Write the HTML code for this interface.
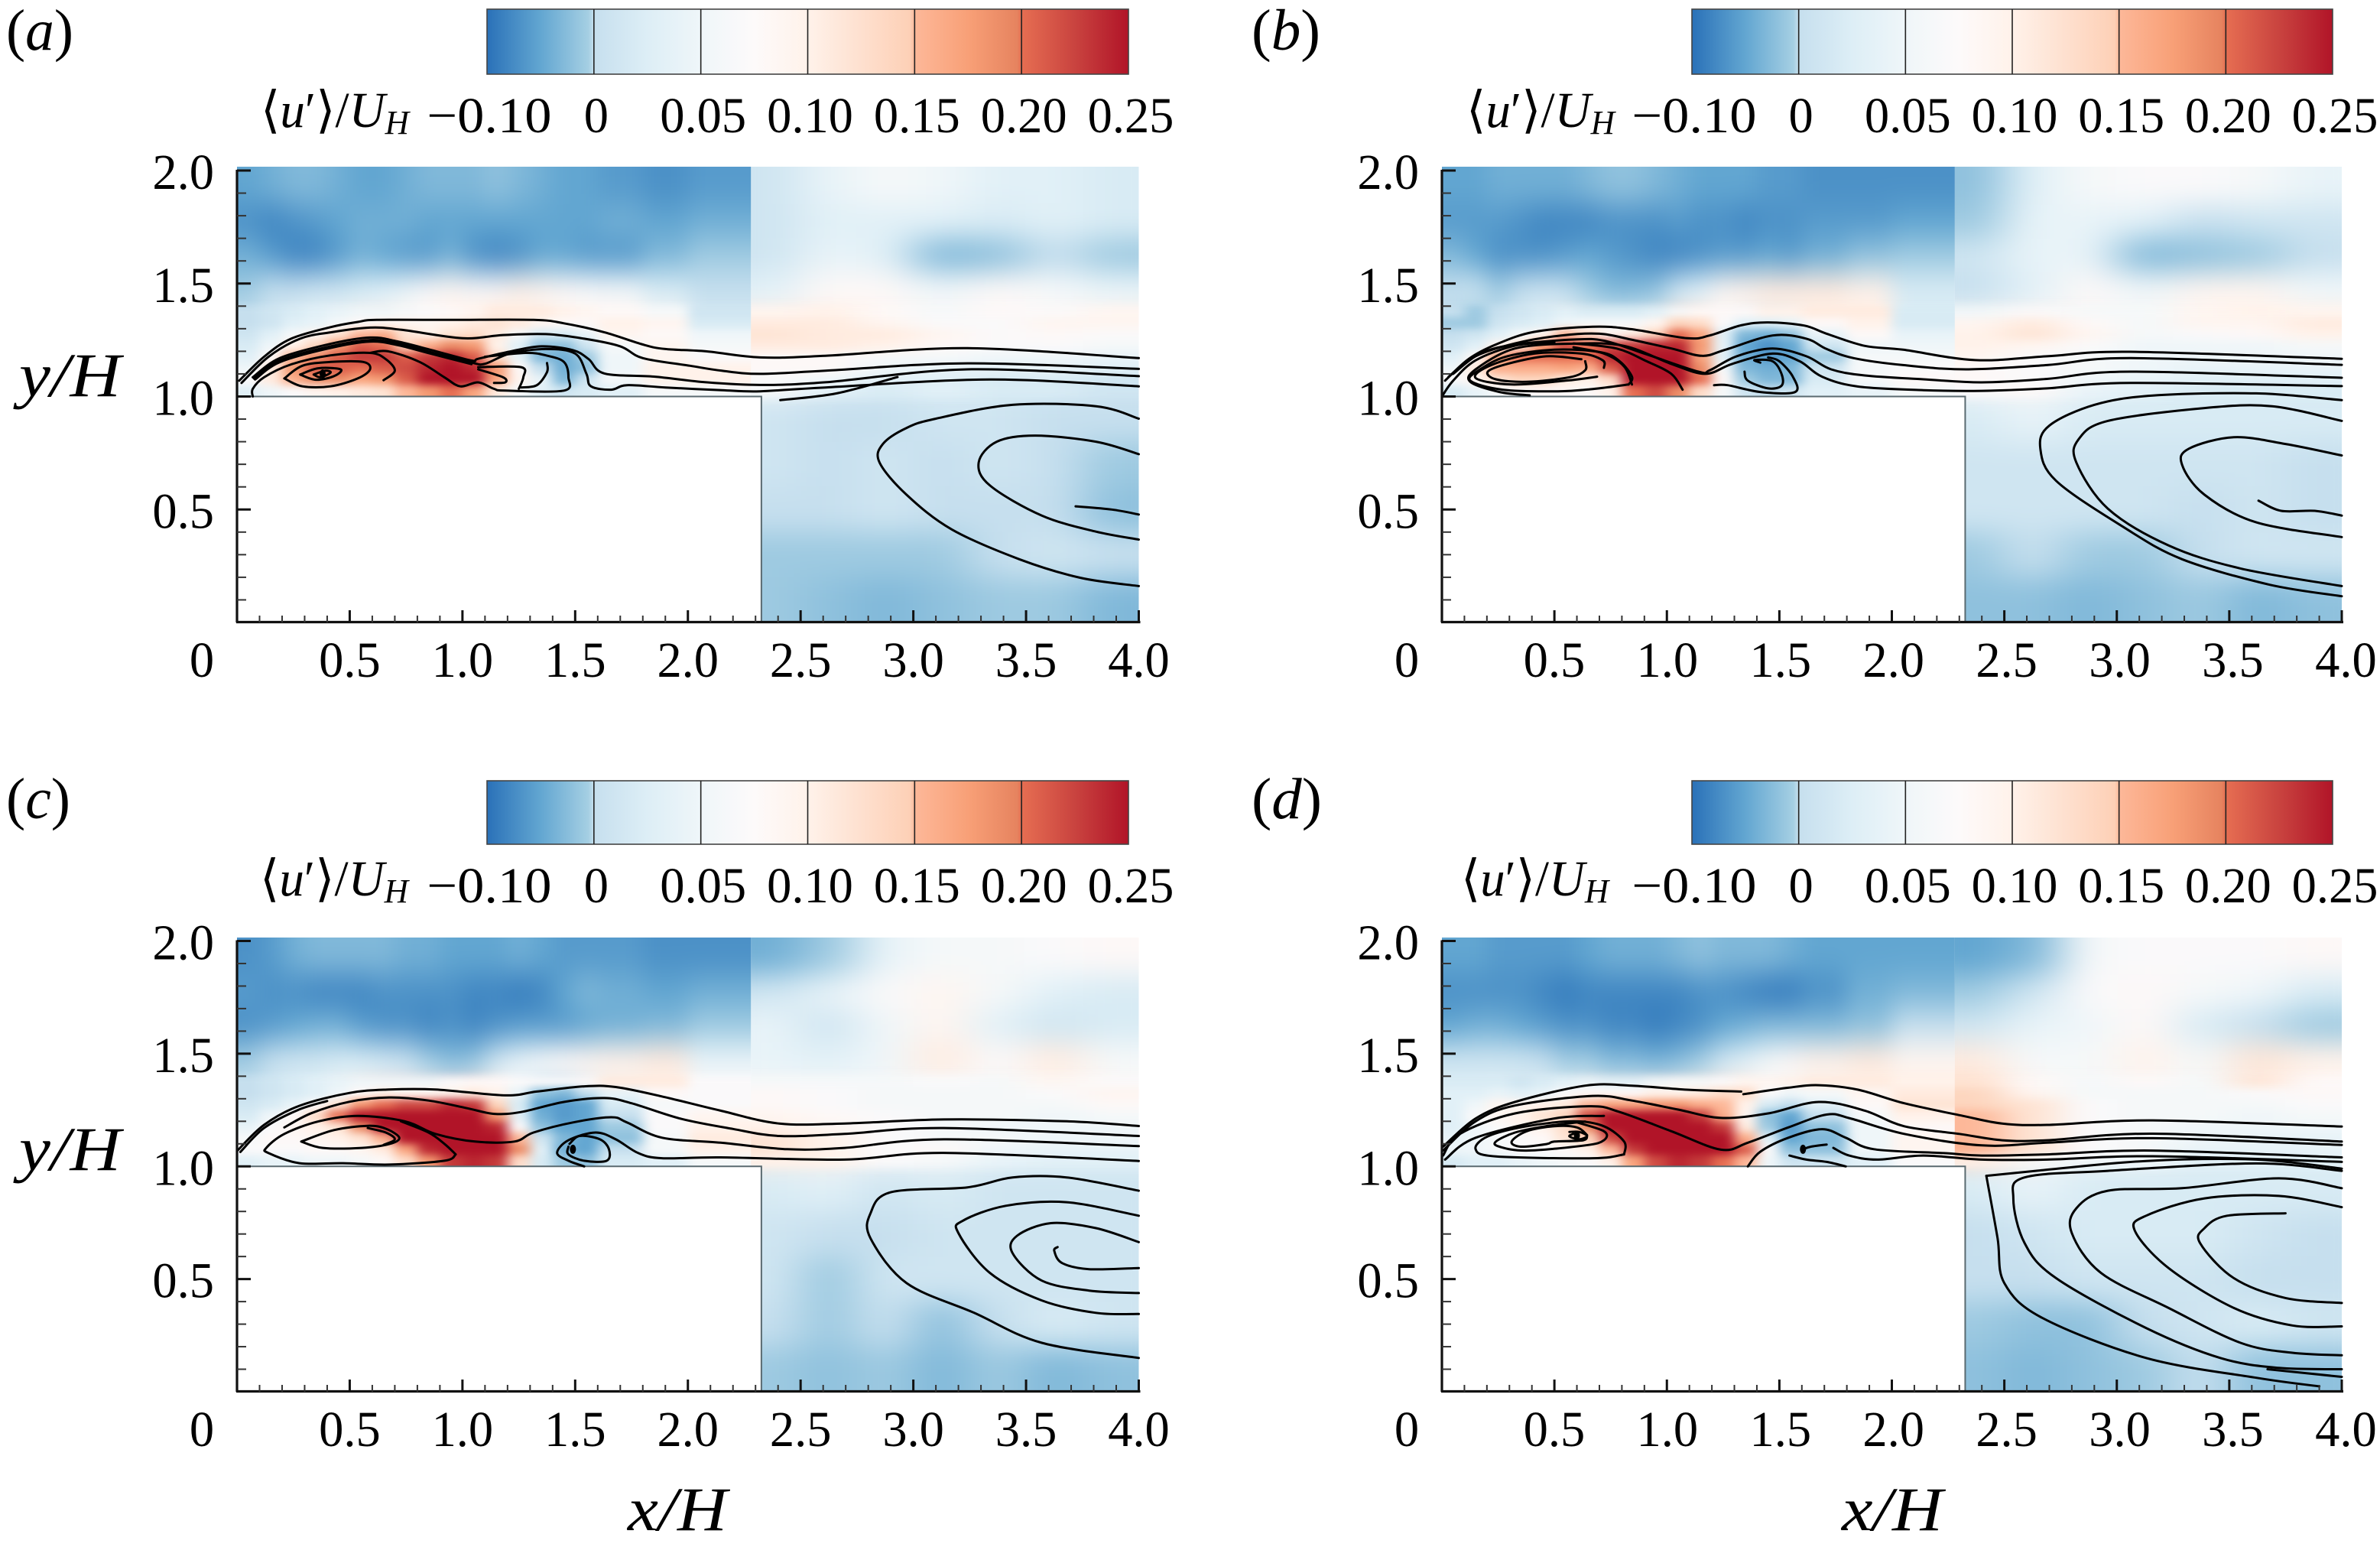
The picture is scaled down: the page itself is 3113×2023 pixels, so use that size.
<!DOCTYPE html>
<html lang="en">
<head>
<meta charset="utf-8">
<title>Mean streamwise velocity fluctuation over a block, panels a to d</title>
<style>
html,body{margin:0;padding:0;background:#fff}
svg{display:block}
text{font-family:"Liberation Serif","DejaVu Serif",serif;fill:#000}
.i{font-style:italic}
</style>
</head>
<body>
<svg id="figure" xmlns="http://www.w3.org/2000/svg" width="3113" height="2023" viewBox="0 0 3113 2023">
<defs>
<filter id="blurBaseL" filterUnits="userSpaceOnUse" x="0" y="0" width="3113" height="2023" color-interpolation-filters="sRGB"><feGaussianBlur stdDeviation="14 20"/></filter>
<filter id="blurFineL" filterUnits="userSpaceOnUse" x="0" y="0" width="3113" height="2023" color-interpolation-filters="sRGB"><feGaussianBlur stdDeviation="8 5"/></filter>
<filter id="blurBaseR" filterUnits="userSpaceOnUse" x="0" y="0" width="3113" height="2023" color-interpolation-filters="sRGB"><feGaussianBlur stdDeviation="30 18"/></filter>
<filter id="blurFineR" filterUnits="userSpaceOnUse" x="0" y="0" width="3113" height="2023" color-interpolation-filters="sRGB"><feGaussianBlur stdDeviation="24 6"/></filter>
</defs>
<rect width="3113" height="2023" fill="#fff"/>
<g id="panel-a"></g>
<g id="panel-b"></g>
<g id="panel-c"></g>
<g id="panel-d"></g>

<text x="8" y="65" font-size="76" textLength="88" lengthAdjust="spacingAndGlyphs">(<tspan class="i">a</tspan>)</text>
<text x="1637" y="65" font-size="76" textLength="90" lengthAdjust="spacingAndGlyphs">(<tspan class="i">b</tspan>)</text>
<text x="8" y="1070" font-size="76" textLength="84" lengthAdjust="spacingAndGlyphs">(<tspan class="i">c</tspan>)</text>
<text x="1637" y="1070" font-size="76" textLength="92" lengthAdjust="spacingAndGlyphs">(<tspan class="i">d</tspan>)</text>

<text x="341" y="166" font-size="66" textLength="194" lengthAdjust="spacingAndGlyphs">⟨<tspan class="i">u</tspan>′⟩/<tspan class="i">U</tspan><tspan class="i" font-size="44" dy="9">H</tspan></text>
<text x="1918" y="166" font-size="66" textLength="194" lengthAdjust="spacingAndGlyphs">⟨<tspan class="i">u</tspan>′⟩/<tspan class="i">U</tspan><tspan class="i" font-size="44" dy="9">H</tspan></text>
<text x="340" y="1171" font-size="66" textLength="194" lengthAdjust="spacingAndGlyphs">⟨<tspan class="i">u</tspan>′⟩/<tspan class="i">U</tspan><tspan class="i" font-size="44" dy="9">H</tspan></text>
<text x="1911" y="1171" font-size="66" textLength="193" lengthAdjust="spacingAndGlyphs">⟨<tspan class="i">u</tspan>′⟩/<tspan class="i">U</tspan><tspan class="i" font-size="44" dy="9">H</tspan></text>

<text x="25" y="518" font-size="82" class="i" textLength="133" lengthAdjust="spacingAndGlyphs">y/H</text>
<text x="25" y="1530" font-size="82" class="i" textLength="133" lengthAdjust="spacingAndGlyphs">y/H</text>
<text x="821" y="2001" font-size="82" class="i" textLength="130" lengthAdjust="spacingAndGlyphs">x/H</text>
<text x="2409" y="2001" font-size="82" class="i" textLength="132" lengthAdjust="spacingAndGlyphs">x/H</text>

<script>
// ----- axis and colour-bar labels -----
const xTickValues = [0, 0.5, 1, 1.5, 2, 2.5, 3, 3.5, 4];
const xTickLabels = ['0', '0.5', '1.0', '1.5', '2.0', '2.5', '3.0', '3.5', '4.0'];
const yTickValues = [0.5, 1, 1.5, 2];
const yTickLabels = ['0.5', '1.0', '1.5', '2.0'];
const cbarTickLabels = ['\u22120.10', '0', '0.05', '0.10', '0.15', '0.20', '0.25'];
const cbarTickValues = [-10, 0, 5, 10, 15, 20, 25];

// ----- colour map: value (hundredths of U_H) -> colour -----
const cmapValues = [-10, -5, -0.5, 0, 2.5, 5, 7.5, 10, 12.5, 14.8, 15, 17.5, 19.8, 20, 22.5, 25];
const cmapColours = ['#2a71b8', '#62a6d1', '#a5cfe3', '#c6dfee', '#ddeef6', '#eff6f9', '#fdfafa', '#fff2ea', '#fee0cf', '#fdd0b6', '#fdb899', '#f8a077', '#e6835f', '#e66e52', '#c9433f', '#b11428'];

// ----- heat-map grid edges, data units -----
const xEdgesLeft = [0, 0.1, 0.2, 0.3, 0.4, 0.5, 0.6, 0.7, 0.8, 0.9, 1.0, 1.1, 1.2, 1.3, 1.4, 1.5, 1.6, 1.8, 2.0, 2.28];
const xEdgesRight = [2.28, 2.5, 2.75, 3.0, 3.25, 3.5, 3.75, 4.0];
const yEdgesUpper = [2.02, 1.85, 1.7, 1.55, 1.4, 1.35, 1.3, 1.25, 1.2, 1.15, 1.1, 1.05, 1.0];
const yEdgesFull = [2.02, 1.85, 1.7, 1.55, 1.4, 1.35, 1.3, 1.25, 1.2, 1.15, 1.1, 1.05, 1.0, 0.8, 0.6, 0.4, 0.2, 0];

// ----- panel (a) field values, hundredths -----
const heatALeft = [
[-5,-4,-3,-3,-4,-5,-5,-4,-3,-3,-3,-2,-3,-4,-5,-5,-6,-7,-6],
[-7,-8,-7,-6,-5,-4,-4,-4,-5,-5,-5,-5,-5,-5,-5,-5,-4,-5,-4],
[-4,-6,-8,-8,-6,-4,-5,-6,-6,-4,-7,-8,-7,-5,-5,-6,-6,-3,-1],
[-1,0,0,1,1,2,3,5,8,9,8,8,10,9,8,7,6,2,0],
[0,1,2,3,4,5,5,6,7,8,9,11,11,11,10,9,8,6,1],
[0,1,3,4,6,8,9,9,9,10,11,12,11,9,8,8,10,9,2],
[1,3,6,9,12,15,16,12,10,12,13,11,6,2,2,4,9,8,5],
[2,5,10,14,18,21,20,14,16,19,18,10,3,-2,-2,1,6,9,6],
[3,8,15,19,21,23,23,21,23,24,21,13,4,-3,-4,-1,5,9,7],
[5,11,18,21,21,20,21,22,24,25,24,18,8,0,-4,-2,5,10,10],
[7,11,16,19,19,17,18,21,25,25,25,17,9,4,-3,1,6,10,10],
[3,5,7,9,10,11,12,15,18,20,17,11,6,3,1,2,3,6,6]];
const heatARight = [
[1,4,6,5,3,3,2],[1,3,3,3,2,3,2],[1,4,3,-3,-2,0,-1],[3,8,8,5,8,6,4],[9,10,8,6,8,7,9],[11,11,9,7,7,9,9],
[12,11,11,9,7,8,7],[11,11,10,8,7,7,6],[8,8,6,6,5,5,4],[8,8,5,4,4,4,3],[7,5,3,3,2,2,1],[6,3,2,3,2,2,1],
[1,0,0,1,1,0,0],[1,0,1,0,1,0,-1],[0,0,1,0,0,0,-2],[-1,-1,-1,-1,0,1,0],[-1,-2,-3,-2,-1,-1,-3]];

// ----- panel (b) -----
const heatBLeft = [
[-5,-5,-4,-4,-4,-4,-3,-2,-2,-3,-4,-5,-5,-5,-6,-6,-7,-7,-7],
[-6,-6,-6,-7,-8,-8,-8,-7,-7,-7,-6,-7,-7,-8,-7,-7,-6,-6,-5],
[-3,-5,-7,-7,-7,-6,-5,-6,-7,-8,-8,-7,-6,-6,-5,-6,-4,-2,-1],
[0,1,-1,0,1,0,-1,-3,-3,-2,1,3,9,10,11,11,11,10,2],
[0,-1,0,1,2,3,2,2,2,3,6,8,8,8,10,10,11,11,2],
[-1,-1,1,2,3,5,6,6,6,9,14,13,7,3,3,4,8,10,2],
[0,1,3,6,9,15,13,9,11,14,20,17,3,-3,-4,-2,4,8,4],
[1,3,9,12,18,22,20,22,23,24,24,18,4,-5,-7,-5,1,5,5],
[3,8,17,20,20,20,20,24,25,25,25,17,3,-4,-6,-5,-1,6,6],
[5,11,16,16,16,17,16,21,25,25,25,19,6,-3,-4,-3,1,6,7],
[7,9,12,14,14,11,10,13,25,25,25,20,8,-1,-3,-3,2,6,8],
[2,4,6,7,8,8,8,10,20,22,19,13,6,1,0,1,3,4,6]];
const heatBRight = [
[-2,3,6,7,7,6,4],[-1,4,4,3,0,1,1],[1,4,4,-3,-2,-1,0],[0,3,8,5,9,9,5],[5,7,6,6,9,10,9],[9,11,8,6,9,9,11],
[10,12,9,6,7,8,10],[10,9,7,5,5,5,6],[9,7,6,5,5,5,5],[8,7,6,5,4,4,4],[8,7,5,4,3,3,3],[7,8,4,3,2,2,2],
[2,4,2,2,2,2,2],[1,1,1,1,1,1,0],[1,1,1,1,0,1,0],[-1,0,-1,-1,0,1,1],[-2,-2,-3,-2,-1,-3,-2]];

// ----- panel (c) -----
const heatCLeft = [
[-7,-6,-4,-3,-3,-3,-3,-4,-4,-5,-5,-5,-4,-5,-6,-6,-6,-7,-7],
[-6,-7,-7,-8,-8,-8,-7,-7,-7,-7,-8,-8,-9,-8,-5,-3,-4,-5,-4],
[-7,-6,-5,-4,-4,-6,-7,-7,-8,-7,-8,-7,-6,-6,-6,-5,-4,-3,-1],
[-1,0,1,1,2,2,1,0,-1,-3,-2,1,4,6,8,9,10,11,4],
[0,1,2,3,4,5,5,5,5,7,8,8,7,7,7,8,11,11,7],
[0,1,2,3,5,8,10,9,9,10,11,10,4,-2,-3,0,4,8,7],
[1,2,4,7,12,18,20,22,22,24,23,14,2,-5,-6,-5,2,6,7],
[2,5,8,13,20,25,25,25,25,25,25,18,3,-4,-6,-5,0,7,9],
[4,7,9,10,12,19,25,25,25,25,25,24,7,-2,-5,-5,-1,7,10],
[6,8,8,9,10,12,16,25,25,25,25,25,15,1,-3,-5,-2,6,11],
[7,7,7,8,8,9,11,17,24,25,25,25,19,3,-4,-5,0,6,10],
[3,4,4,5,5,6,8,13,18,23,24,23,13,2,-1,-2,2,3,6]];
const heatCRight = [
[-4,-1,4,6,6,7,8],[1,4,7,9,6,3,2],[4,1,5,9,3,1,2],[4,3,5,11,7,11,6],[6,6,6,7,6,9,7],[8,7,6,6,6,7,9],
[8,7,6,6,6,6,8],[9,8,7,6,6,5,6],[10,9,7,6,5,5,5],[12,10,7,6,6,5,5],[12,10,7,8,5,4,4],[10,10,7,6,4,3,3],
[2,3,1,2,1,1,1],[1,0,0,1,1,1,1],[1,-1,1,1,1,1,1],[0,-1,0,-2,0,2,1],[-1,-2,-1,-3,-1,-3,-2]];

// ----- panel (d) -----
const heatDLeft = [
[-5,-5,-6,-6,-6,-6,-5,-4,-4,-4,-3,-2,-3,-3,-3,-4,-5,-5,-5],
[-7,-7,-7,-7,-8,-9,-8,-8,-8,-8,-8,-7,-7,-8,-9,-9,-7,-4,-3],
[-5,-4,-4,-5,-6,-7,-7,-8,-8,-9,-8,-7,-5,-4,-3,-3,-3,-2,0],
[1,1,1,1,0,-1,-1,-3,-3,-4,-3,-1,1,3,6,8,10,11,9],
[2,2,2,1,2,3,4,3,3,5,6,6,7,9,9,10,11,11,10],
[3,3,4,3,4,7,8,8,8,10,10,11,13,13,7,5,6,9,11],
[3,5,9,9,10,11,15,17,17,18,18,16,15,10,2,0,3,8,12],
[3,7,9,10,12,14,22,25,25,25,25,23,16,9,-2,-5,0,6,10],
[3,5,7,9,10,13,19,25,25,25,25,25,23,11,-1,-6,-2,5,8],
[4,5,6,7,8,12,14,22,25,25,25,25,25,16,3,-5,-3,5,9],
[5,5,6,7,7,8,10,15,23,25,25,25,25,21,7,-2,-2,5,9],
[2,3,3,4,5,6,7,10,17,22,24,23,20,15,5,1,1,3,7]];
const heatDRight = [
[-5,-3,6,7,7,7,8],[-1,1,7,8,6,5,2],[1,4,5,8,2,0,-1],[11,6,6,10,6,12,10],[12,8,6,8,6,12,8],[14,9,6,6,6,7,8],
[14,12,7,6,6,6,7],[15,12,7,6,6,5,6],[15,12,7,6,5,5,5],[15,12,7,6,5,4,4],[16,12,7,6,4,4,4],[10,6,5,5,3,3,3],
[2,4,2,2,2,2,2],[0,1,2,2,2,1,0],[0,0,1,1,1,0,0],[-1,-2,-2,0,1,2,1],[-2,-3,-2,-1,0,-2,-2]];

// ----- streamlines, [x/H, y/H] -----
const streamsA = [
[[0.01,1.07],[0.12,1.176],[0.24,1.256],[0.415,1.307],[0.536,1.33],[0.62,1.339],[0.95,1.339],[1.315,1.339],[1.45,1.324],[1.63,1.284],[1.8,1.23],[1.9,1.21],[2.08,1.2],[2.32,1.173],[2.61,1.18],[3.24,1.214],[4,1.17]],
[[0.02,1.06],[0.14,1.176],[0.28,1.256],[0.415,1.284],[0.59,1.305],[0.73,1.295],[1.0,1.258],[1.18,1.272],[1.37,1.276],[1.54,1.256],[1.7,1.222],[1.8,1.17],[2.01,1.136],[2.15,1.114],[2.32,1.1],[2.61,1.114],[3.24,1.147],[4,1.122]],
[[0.07,1.085],[0.19,1.17],[0.415,1.233],[0.59,1.261],[0.71,1.244],[0.865,1.205],[1.04,1.159],[1.07,1.167],[1.21,1.199],[1.35,1.222],[1.49,1.205],[1.56,1.165],[1.63,1.102],[1.85,1.088],[2.08,1.063],[2.32,1.051],[2.61,1.063],[3.24,1.12],[4,1.09]],
[[0.075,1.08],[0.19,1.16],[0.415,1.222],[0.59,1.25],[0.71,1.235],[0.865,1.195],[1.04,1.15],[1.1,1.145],[1.21,1.19],[1.37,1.21],[1.5,1.19],[1.55,1.1],[1.57,1.045],[1.66,1.03],[1.73,1.05],[1.9,1.04],[2.15,1.028],[2.32,1.023],[2.61,1.04],[3.34,1.075],[4,1.045]],
[[0.08,1.075],[0.19,1.152],[0.415,1.215],[0.59,1.243],[0.71,1.228],[0.865,1.188],[1.04,1.143]],
[[2.41,0.984],[2.66,1.014],[2.93,1.086]],
[[0.21,1.08],[0.29,1.136],[0.415,1.153],[0.56,1.153],[0.59,1.12],[0.535,1.08],[0.415,1.045],[0.29,1.045],[0.21,1.08]],
[[0.28,1.097],[0.36,1.125],[0.46,1.12],[0.43,1.09],[0.35,1.074],[0.28,1.097]],
[[0.34,1.097],[0.39,1.114],[0.415,1.106],[0.37,1.085],[0.34,1.097]],
[[0.65,1.072],[0.7,1.114],[0.66,1.165],[0.59,1.193],[0.415,1.182],[0.24,1.142],[0.12,1.085],[0.07,1.034],[0.07,1.0]],
[[0.59,1.193],[0.67,1.2],[0.81,1.153],[0.92,1.085],[0.99,1.045],[1.07,1.0625],[1.14,1.034],[1.19,1.026],[1.45,1.026],[1.47,1.085],[1.45,1.153],[1.37,1.182],[1.28,1.193],[1.1,1.176]],
[[1.07,1.13],[1.26,1.13],[1.27,1.085],[1.25,1.034]],
[[1.07,1.12],[1.18,1.085],[1.19,1.0625],[1.14,1.06]],
[[1.375,1.148],[1.375,1.108],[1.33,1.05],[1.26,1.04]],
[[4,0.902],[3.81,0.957],[3.44,0.963],[3.1,0.902],[2.97,0.861],[2.865,0.79],[2.85,0.708],[2.97,0.565],[3.17,0.412],[3.47,0.28],[3.74,0.198],[4,0.161]],
[[4,0.745],[3.81,0.8],[3.54,0.827],[3.37,0.8],[3.29,0.708],[3.34,0.606],[3.57,0.473],[3.81,0.402],[4,0.367]],
[[3.72,0.514],[3.88,0.5],[4,0.478]]];
const streamsB = [
[[0.014,1.07],[0.12,1.167],[0.24,1.23],[0.41,1.286],[0.67,1.309],[0.84,1.298],[1.09,1.258],[1.19,1.27],[1.33,1.315],[1.45,1.328],[1.61,1.314],[1.71,1.278],[1.88,1.224],[2.05,1.207],[2.37,1.161],[2.69,1.178],[3.06,1.198],[4,1.167]],
[[0.03,1.0875],[0.15,1.178],[0.325,1.235],[0.53,1.27],[0.7,1.278],[0.84,1.252],[1.02,1.2125],[1.156,1.18],[1.26,1.207],[1.47,1.27],[1.62,1.256],[1.71,1.21],[1.83,1.17],[2.05,1.139],[2.33,1.12],[2.69,1.139],[3.06,1.17],[4,1.14]],
[[0.05,1.1],[0.17,1.19],[0.325,1.23],[0.585,1.252],[0.72,1.247],[0.9,1.19],[1.14,1.11],[1.19,1.116],[1.31,1.178],[1.47,1.2125],[1.62,1.178],[1.73,1.12],[1.88,1.093],[2.14,1.076],[2.4,1.0625],[2.69,1.078],[3.06,1.11],[4,1.083]],
[[0.39,1.005],[0.256,1.02],[0.126,1.065],[0.15,1.12],[0.325,1.2125],[0.585,1.234],[0.81,1.224],[1.02,1.144],[1.17,1.1],[1.29,1.144],[1.47,1.19],[1.59,1.156],[1.69,1.0875],[1.85,1.044],[2.14,1.028],[2.4,1.025],[2.69,1.036],[3.06,1.06],[4,1.046]],
[[0.0,1.0],[0.05,1.07],[0.15,1.16],[0.325,1.225],[0.5,1.24]],
[[0.83,1.053],[0.845,1.0875],[0.79,1.156],[0.706,1.196],[0.5,1.207],[0.29,1.178],[0.17,1.12],[0.126,1.07],[0.27,1.03],[0.515,1.023],[0.67,1.033],[0.83,1.053]],
[[0.69,1.0875],[0.55,1.07],[0.31,1.053],[0.15,1.082],[0.22,1.139],[0.41,1.19],[0.62,1.19],[0.715,1.16],[0.72,1.127]],
[[0.637,1.156],[0.637,1.116],[0.567,1.085],[0.377,1.065],[0.24,1.076],[0.204,1.11],[0.29,1.144],[0.465,1.178],[0.62,1.165]],
[[1.07,1.03],[1.02,1.1],[0.91,1.156],[0.776,1.2125],[0.585,1.235]],
[[0.845,1.053],[0.81,1.133],[0.72,1.19],[0.585,1.218]],
[[1.345,1.11],[1.36,1.07],[1.45,1.036],[1.51,1.048],[1.51,1.099],[1.47,1.156],[1.39,1.161],[1.415,1.15]],
[[1.21,1.05],[1.27,1.05],[1.415,1.02],[1.57,1.02],[1.56,1.0875],[1.5,1.156],[1.45,1.173]],
[[4,0.984],[3.62,1.014],[3.16,1.004],[2.9,0.963],[2.7,0.871],[2.66,0.77],[2.73,0.627],[3.03,0.422],[3.29,0.28],[3.68,0.167],[4,0.116]],
[[4,0.892],[3.69,0.957],[3.39,0.949],[2.96,0.892],[2.83,0.81],[2.82,0.708],[2.96,0.504],[3.23,0.341],[3.55,0.239],[4,0.161]],
[[4,0.739],[3.75,0.79],[3.52,0.82],[3.32,0.769],[3.29,0.698],[3.39,0.565],[3.62,0.443],[4,0.378]],
[[3.63,0.539],[3.73,0.494],[3.88,0.494],[4,0.473]]];
const streamsC = [
[[0,1.068],[0.12,1.184],[0.277,1.269],[0.5,1.326],[0.675,1.341],[0.88,1.341],[1.19,1.315],[1.33,1.332],[1.54,1.355],[1.68,1.352],[1.886,1.31],[2.145,1.247],[2.405,1.19],[2.695,1.19],[3.135,1.208],[3.68,1.2],[4,1.179]],
[[0.015,1.064],[0.12,1.17],[0.27,1.25],[0.4,1.29]],
[[0.21,1.173],[0.33,1.236],[0.5,1.287],[0.675,1.306],[0.85,1.292],[1.02,1.258],[1.14,1.233],[1.26,1.241],[1.45,1.286],[1.63,1.303],[1.75,1.28],[1.97,1.211],[2.2,1.166],[2.405,1.135],[2.695,1.144],[3.135,1.17],[4,1.135]],
[[0.97,1.053],[0.92,1.025],[0.675,1.008],[0.47,1.014],[0.277,1.014],[0.14,1.059],[0.13,1.082],[0.21,1.144],[0.363,1.2],[0.536,1.224],[0.744,1.2],[0.88,1.144],[1.056,1.11],[1.23,1.11],[1.315,1.15],[1.49,1.195],[1.66,1.218],[1.73,1.195],[1.886,1.127],[2.145,1.105],[2.44,1.076],[2.695,1.082],[3.135,1.12],[4,1.09]],
[[0.97,1.053],[0.92,1.1],[0.85,1.15],[0.727,1.2]],
[[1.54,1.0],[1.47,1.025],[1.42,1.06],[1.47,1.116],[1.59,1.15],[1.68,1.12],[1.78,1.059],[1.886,1.036],[2.145,1.04],[2.695,1.03],[3.135,1.06],[4,1.024]],
[[1.47,1.0875],[1.47,1.053],[1.54,1.025],[1.64,1.025],[1.65,1.076],[1.61,1.12],[1.52,1.135],[1.475,1.1]],
[[0.285,1.11],[0.43,1.161],[0.58,1.18],[0.66,1.167],[0.72,1.127],[0.675,1.099],[0.554,1.082],[0.38,1.082],[0.285,1.11]],
[[0.58,1.17],[0.66,1.15],[0.7,1.12],[0.65,1.095]],
[[4,0.892],[3.68,0.951],[3.44,0.951],[3.24,0.907],[2.9,0.885],[2.81,0.792],[2.81,0.681],[2.97,0.482],[3.27,0.35],[3.57,0.217],[4,0.15]],
[[4,0.781],[3.68,0.841],[3.41,0.825],[3.22,0.759],[3.2,0.704],[3.34,0.527],[3.57,0.405],[3.81,0.35],[4,0.345]],
[[4,0.664],[3.81,0.726],[3.61,0.748],[3.46,0.692],[3.44,0.615],[3.57,0.493],[3.78,0.449],[4,0.438]],
[[4,0.549],[3.78,0.544],[3.66,0.571],[3.625,0.626],[3.64,0.642]]];
const streamsD = [
[[0.005,1.0875],[0.15,1.2125],[0.325,1.286],[0.637,1.358],[0.845,1.358],[1.09,1.34],[1.33,1.332]],
[[1.34,1.32],[1.54,1.349],[1.675,1.36],[1.85,1.34],[2.055,1.28],[2.315,1.224],[2.49,1.19],[2.69,1.184],[3.16,1.204],[4,1.177]],
[[0.005,1.07],[0.15,1.2],[0.325,1.27],[0.67,1.3125],[0.845,1.292],[1.05,1.252],[1.24,1.215],[1.45,1.235],[1.675,1.286],[1.88,1.247],[2.055,1.178],[2.3,1.144],[2.49,1.116],[2.69,1.116],[3.16,1.145],[4,1.11]],
[[0.005,1.048],[0.08,1.144],[0.325,1.235],[0.654,1.267],[0.79,1.241],[1.02,1.156],[1.24,1.074],[1.36,1.105],[1.54,1.173],[1.71,1.23],[1.815,1.213],[2.055,1.144],[2.4,1.093],[2.69,1.105],[3.16,1.125],[4,1.095]],
[[1.36,1.0],[1.415,1.065],[1.54,1.127],[1.69,1.165],[1.795,1.127],[1.92,1.076],[2.23,1.059],[2.4,1.048],[2.69,1.053],[3.16,1.07],[4,1.04]],
[[1.74,1.082],[1.81,1.048],[1.935,1.03],[2.14,1.048],[2.4,1.03],[2.69,1.03],[3.16,1.045],[4,1.02]],
[[0.81,1.053],[0.81,1.11],[0.72,1.178],[0.585,1.2],[0.377,1.178],[0.204,1.133],[0.15,1.076],[0.24,1.044],[0.67,1.036],[0.81,1.053]],
[[0.72,1.224],[0.5,1.2125],[0.15,1.127],[0.014,1.03]],
[[0.586,1.199],[0.72,1.156],[0.72,1.116],[0.637,1.093],[0.377,1.07],[0.256,1.0875],[0.24,1.11],[0.325,1.15],[0.46,1.178],[0.637,1.199]],
[[0.645,1.139],[0.628,1.116],[0.5,1.11],[0.465,1.099],[0.35,1.0875],[0.31,1.11],[0.377,1.156],[0.5,1.178],[0.6,1.173],[0.645,1.139]],
[[0.567,1.153],[0.61,1.153],[0.645,1.135],[0.61,1.12],[0.567,1.133],[0.585,1.145]],
[[1.605,1.076],[1.64,1.0875],[1.71,1.097]],
[[1.545,1.048],[1.62,1.03],[1.71,1.02],[1.795,1.0]],
[[2.42,0.958],[2.64,0.98],[3.13,1.024],[3.62,1.03],[4,0.99]],
[[2.42,0.958],[2.47,0.681],[2.5,0.482],[2.67,0.327],[3.13,0.15],[3.62,0.062],[3.9,0.024]],
[[4,0.98],[3.62,1.013],[2.96,0.98],[2.59,0.951],[2.54,0.858],[2.59,0.66],[2.73,0.504],[3.13,0.283],[3.46,0.15],[3.72,0.106],[4,0.1]],
[[4,0.903],[3.72,0.947],[3.29,0.903],[2.96,0.892],[2.82,0.814],[2.8,0.704],[2.93,0.527],[3.23,0.372],[3.55,0.217],[3.78,0.173],[4,0.162]],
[[4,0.819],[3.72,0.869],[3.39,0.858],[3.13,0.781],[3.08,0.715],[3.23,0.549],[3.52,0.372],[3.78,0.294],[4,0.29]],
[[3.75,0.792],[3.49,0.781],[3.39,0.726],[3.37,0.66],[3.52,0.504],[3.75,0.416],[4,0.394]],
[[3.67,0.1],[4,0.066]]];

// ----- vortex core blobs, [x/H, y/H] -----
const coresA = [[0.38, 1.1]];
const coresB = [];
const coresC = [[1.49, 1.076]];
const coresD = [[1.605, 1.076], [0.6, 1.137]];

// ----- layout -----
const SVG_NS = 'http://www.w3.org/2000/svg';
const BLOCK_RIGHT = 2.326;
const FINE_ROW_START = 4;
const FINE_ROW_END = 12;
const layouts = [
  {id:'a', x0:310, x1:1489.5, y0:814, y2:223, top:218, cb:[637,1476,12,97], labelShift:3, yLabels:30, left:heatALeft, right:heatARight, streams:streamsA, cores:coresA},
  {id:'b', x0:1886, x1:3063, y0:814, y2:223, top:218, cb:[2213,3051,12,97], labelShift:3, yLabels:30, left:heatBLeft, right:heatBRight, streams:streamsB, cores:coresB},
  {id:'c', x0:310, x1:1489.5, y0:1820, y2:1230.5, top:1226, cb:[637,1476,1021,1104], labelShift:3, yLabels:30, left:heatCLeft, right:heatCRight, streams:streamsC, cores:coresC},
  {id:'d', x0:1886, x1:3063, y0:1820, y2:1230.5, top:1226, cb:[2213,3051,1021,1104], labelShift:3, yLabels:30, left:heatDLeft, right:heatDRight, streams:streamsD, cores:coresD}
];

function hexToRgb(h) {
  return [parseInt(h.slice(1, 3), 16), parseInt(h.slice(3, 5), 16), parseInt(h.slice(5, 7), 16)];
}
function colourOf(v) {
  if (v <= cmapValues[0]) return cmapColours[0];
  for (let i = 1; i < cmapValues.length; i++) {
    if (v <= cmapValues[i]) {
      const t = (v - cmapValues[i - 1]) / (cmapValues[i] - cmapValues[i - 1]);
      const a = hexToRgb(cmapColours[i - 1]);
      const b = hexToRgb(cmapColours[i]);
      return 'rgb(' + a.map((c, k) => Math.round(c + (b[k] - c) * t)).join(',') + ')';
    }
  }
  return cmapColours[cmapColours.length - 1];
}
function mk(tag, attrs, parent) {
  const el = document.createElementNS(SVG_NS, tag);
  for (const k in attrs) el.setAttribute(k, attrs[k]);
  parent.appendChild(el);
  return el;
}
function labelWidth(s, fs) {
  let w = 0;
  for (const ch of s) w += ch === '.' ? 0.25 : ch === '\u2212' ? 0.78 : 0.5;
  return w * fs * 1.04;
}
function smoothPath(pts) {
  let d = 'M' + pts[0][0].toFixed(1) + ' ' + pts[0][1].toFixed(1);
  for (let i = 0; i < pts.length - 1; i++) {
    const p0 = pts[Math.max(i - 1, 0)], p1 = pts[i], p2 = pts[i + 1], p3 = pts[Math.min(i + 2, pts.length - 1)];
    const c1x = p1[0] + (p2[0] - p0[0]) / 6, c1y = p1[1] + (p2[1] - p0[1]) / 6;
    const c2x = p2[0] - (p3[0] - p1[0]) / 6, c2y = p2[1] - (p3[1] - p1[1]) / 6;
    d += 'C' + c1x.toFixed(1) + ' ' + c1y.toFixed(1) + ' ' + c2x.toFixed(1) + ' ' + c2y.toFixed(1) + ' ' + p2[0].toFixed(1) + ' ' + p2[1].toFixed(1);
  }
  return d;
}
function drawCells(group, values, xEdges, yEdges, sx, sy, rowStart, rowEnd, padTop, padBottom) {
  const pad = 60;
  for (let r = rowStart; r < rowEnd; r++) {
    const row = values[r];
    row.forEach((v, c) => {
      let xa = sx(xEdges[c]), xb = sx(xEdges[c + 1]);
      let ya = sy(yEdges[r]), yb = sy(yEdges[r + 1]);
      if (c === 0) xa -= pad;
      if (c === row.length - 1) xb += pad;
      if (padTop && r === rowStart) ya -= pad;
      if (padBottom && r === rowEnd - 1) yb += pad;
      const cell = mk('rect', {x: xa.toFixed(1), y: ya.toFixed(1), width: (xb - xa + 1).toFixed(1), height: (yb - ya + 1).toFixed(1), fill: colourOf(v), 'shape-rendering': 'crispEdges'}, group);
      
      
    });
  }
}

layouts.forEach(p => {
  const root = document.getElementById('panel-' + p.id);
  const sx = v => p.x0 + v * (p.x1 - p.x0) / 4;
  const sy = v => p.y0 + v * (p.y2 - p.y0) / 2;
  const defs = mk('defs', {}, root);

  // clip regions
  const clipL = mk('clipPath', {id: 'clipL' + p.id}, defs);
  mk('rect', {x: sx(0), y: p.top, width: sx(2.28) - sx(0), height: sy(1) - p.top}, clipL);
  const clipR = mk('clipPath', {id: 'clipR' + p.id}, defs);
  mk('rect', {x: sx(2.28), y: p.top, width: sx(4) - sx(2.28), height: p.y0 - p.top}, clipR);

  // heat-map, upstream of the split: a soft base under a sharper shear-layer overlay
  const outerL = mk('g', {'clip-path': 'url(#clipL' + p.id + ')'}, root);
  
  
  const baseL = mk('g', {filter: 'url(#blurBaseL)'}, outerL);
  drawCells(baseL, p.left, xEdgesLeft, yEdgesUpper, sx, sy, 0, p.left.length, true, true);
  const fineL = mk('g', {filter: 'url(#blurFineL)'}, outerL);
  drawCells(fineL, p.left, xEdgesLeft, yEdgesUpper, sx, sy, FINE_ROW_START, p.left.length, false, true);

  // heat-map, downstream of the split
  const outerR = mk('g', {'clip-path': 'url(#clipR' + p.id + ')'}, root);
  
  
  const baseR = mk('g', {filter: 'url(#blurBaseR)'}, outerR);
  drawCells(baseR, p.right, xEdgesRight, yEdgesFull, sx, sy, 0, p.right.length, true, true);
  const fineR = mk('g', {filter: 'url(#blurFineR)'}, outerR);
  drawCells(fineR, p.right, xEdgesRight, yEdgesFull, sx, sy, FINE_ROW_START, FINE_ROW_END, false, false);

  // solid block
  const block = mk('rect', {x: sx(0), y: sy(1), width: sx(BLOCK_RIGHT) - sx(0), height: p.y0 - sy(1), fill: '#fff', stroke: '#5a6a70', 'stroke-width': 2}, root);
  
  

  // streamlines
  const sGroup = mk('g', {fill: 'none', stroke: '#000', 'stroke-width': 3, 'stroke-linejoin': 'round', 'stroke-linecap': 'round'}, root);
  
  
  p.streams.forEach(line => {
    const path = mk('path', {d: smoothPath(line.map(q => [sx(q[0]), sy(q[1])]))}, sGroup);
    
    
  });
  p.cores.forEach(q => {
    const core = mk('ellipse', {cx: sx(q[0]), cy: sy(q[1]), rx: 4, ry: 6, fill: '#000', stroke: 'none'}, sGroup);
    
    
  });

  // axes
  const axes = mk('g', {stroke: '#111', fill: 'none'}, root);
  
  
  const xAxis = mk('line', {x1: sx(0) - 1, x2: sx(4) + 2, y1: p.y0 - 0.5, y2: p.y0 - 0.5, 'stroke-width': 3.2}, axes);
  
  
  const yAxis = mk('line', {x1: sx(0), x2: sx(0), y1: sy(2) - 1, y2: p.y0, 'stroke-width': 3.2}, axes);
  
  
  for (let i = 1; i <= 40; i++) {
    const major = i % 5 === 0;
    const tx = sx(i / 10);
    const tick = mk('line', {x1: tx, x2: tx, y1: p.y0, y2: p.y0 - (major ? 16 : 9), 'stroke-width': major ? 3 : 2, stroke: major ? '#111' : '#333'}, axes);
    
    
  }
  for (let i = 1; i <= 20; i++) {
    const major = i % 5 === 0;
    const ty = sy(i / 10);
    const tick = mk('line', {x1: sx(0), x2: sx(0) + (major ? 18 : 12), y1: ty, y2: ty, 'stroke-width': major ? 3 : 2, stroke: major ? '#111' : '#333'}, axes);
    
    
  }

  // tick labels
  const FS = 66;
  const BASE_FS = 62;
  xTickValues.forEach((v, i) => {
    const s = xTickLabels[i];
    const cx = i === 0 ? sx(0) - 46 : sx(v) + (p.x0 > 1000 ? v * 1.6 - 1 : 0);
    const t = mk('text', {x: cx, y: p.y0 + 71, 'font-size': FS, 'text-anchor': 'middle', textLength: labelWidth(s, BASE_FS), lengthAdjust: 'spacingAndGlyphs'}, root);
    t.textContent = s;
    
    
  });
  yTickValues.forEach((v, i) => {
    const s = yTickLabels[i];
    const t = mk('text', {x: sx(0) - p.yLabels, y: sy(v) + 24, 'font-size': FS, 'text-anchor': 'end', textLength: labelWidth(s, BASE_FS), lengthAdjust: 'spacingAndGlyphs'}, root);
    t.textContent = s;
    
    
  });

  // colour bar
  const [cx0, cx1, cy0, cy1] = p.cb;
  const seg = (cx1 - cx0) / (cbarTickValues.length - 1);
  const cbX = v => {
    for (let i = 1; i < cbarTickValues.length; i++) {
      if (v <= cbarTickValues[i]) {
        return cx0 + seg * (i - 1 + (v - cbarTickValues[i - 1]) / (cbarTickValues[i] - cbarTickValues[i - 1]));
      }
    }
    return cx1;
  };
  const grad = mk('linearGradient', {id: 'cbGrad' + p.id, gradientUnits: 'userSpaceOnUse', x1: cx0, x2: cx1, y1: 0, y2: 0}, defs);
  cmapValues.forEach((v, i) => {
    mk('stop', {offset: ((cbX(v) - cx0) / (cx1 - cx0)).toFixed(4), 'stop-color': cmapColours[i]}, grad);
  });
  const bar = mk('rect', {x: cx0, y: cy0, width: cx1 - cx0, height: cy1 - cy0, fill: 'url(#cbGrad' + p.id + ')', stroke: '#444', 'stroke-width': 1.6}, root);
  
  
  cbarTickValues.forEach((v, i) => {
    const tx = cbX(v);
    if (i > 0 && i < cbarTickValues.length - 1) {
      const tick = mk('line', {x1: tx, x2: tx, y1: cy0, y2: cy1, stroke: '#222', 'stroke-width': 1.6}, root);
      
      
    }
    const s = cbarTickLabels[i];
    const t = mk('text', {x: tx + p.labelShift, y: cy1 + 76, 'font-size': FS, 'text-anchor': 'middle', textLength: labelWidth(s, BASE_FS), lengthAdjust: 'spacingAndGlyphs'}, root);
    t.textContent = s;
    
    
  });
});
</script>
</svg>
</body>
</html>
